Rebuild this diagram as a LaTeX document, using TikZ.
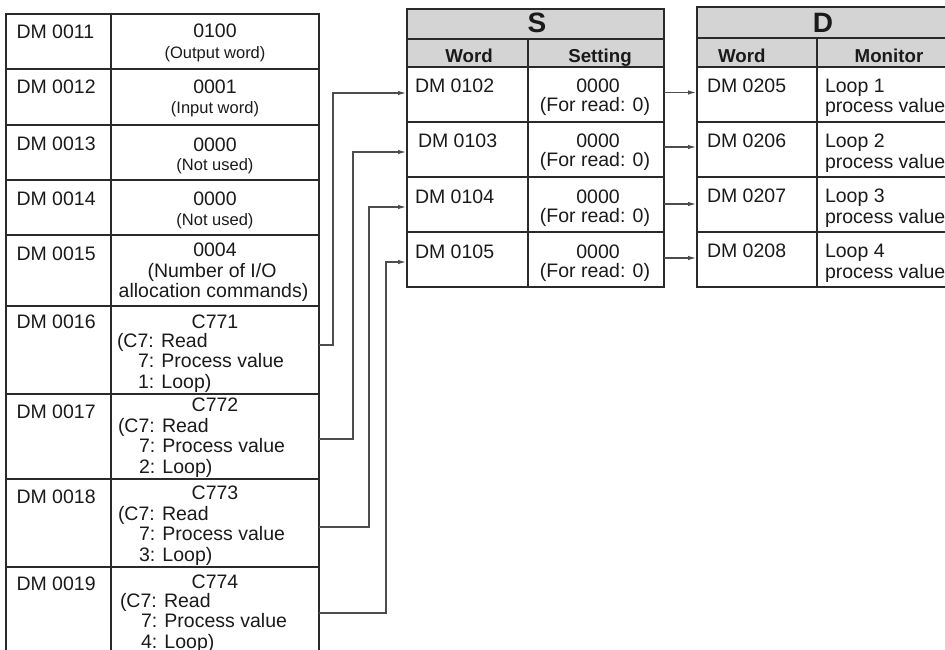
\documentclass[tikz,border=0pt]{standalone}
\usepackage{fontspec}
\setmainfont{Liberation Sans}
\usetikzlibrary{arrows.meta,calc}
\definecolor{txtc}{HTML}{1A1A1A}
\definecolor{linec}{HTML}{2A2A2A}
\definecolor{connc}{HTML}{4D4D4D}
\definecolor{hdrc}{HTML}{D4D4D4}
\begin{document}
\begin{tikzpicture}[x=1pt,y=-1pt,
  cell/.style={draw=linec, line width=1.2pt, inner sep=0pt, outer sep=0pt, anchor=north west},
  hdr/.style={cell, fill=hdrc},
  txt/.style={inner sep=0pt, outer sep=0pt, anchor=base, font=\fontsize{19.5}{20.5}\selectfont, text=txtc},
  txtl/.style={txt, anchor=base west},
  small/.style={txt, font=\fontsize{16.5}{18}\selectfont},
  boldtxt/.style={txt, font=\fontsize{18.7}{20}\selectfont\bfseries},
  bigtxt/.style={txt, font=\fontsize{28}{30}\selectfont\bfseries},
  conn/.style={draw=connc, line width=1.1pt, -{Latex[length=8pt,width=4.5pt]}, shorten >=1pt},
]
\useasboundingbox (0,0) rectangle (945,650);
\clip (0,0) rectangle (945,650);

% ---------- left table ----------
\foreach \n/\t/\b in {11/14/69, 12/69/125, 13/125/180, 14/180/235, 15/235/306, 16/306/394, 17/394/479, 18/479/567, 19/567/700} {
  \node[cell, minimum width=105, minimum height={\b-\t}] (k\n) at (6,\t) {};
  \node[cell, minimum width=208, minimum height={\b-\t}] (v\n) at (111,\t) {};
}
\foreach \n/\y in {11/39, 12/94, 13/150, 14/205, 15/260, 16/328, 17/418, 18/503, 19/590} {
  \node[txtl] (tk\n) at (16.5,\y) {DM 00\n};
}
\node[txt] (tv11) at (215,38) {0100};
\node[small] (tv11b) at (215,58.5) {(Output word)};
\node[txt] (tv12) at (215,94) {0001};
\node[small] (tv12b) at (215,113.5) {(Input word)};
\node[txt] (tv13) at (215,151) {0000};
\node[small] (tv13b) at (215,170) {(Not used)};
\node[txt] (tv14) at (215,205) {0000};
\node[small] (tv14b) at (215,225) {(Not used)};
\node[txt] (tv15) at (215,256.5) {0004};
\node[txt] (tv15b) at (212,277) {(Number of I/O};
\node[txt] (tv15c) at (213.5,297.5) {allocation commands)};
\foreach \n/\c/\y/\dx/\dy in {16/1/328/117/347, 17/2/411/118/432, 18/3/499/118/520, 19/4/588/120/607} {
  \node[txt] (tc\n) at (215,\y) {C77\c};
  \node[txtl] (td\n) at (\dx,\dy) {\begin{tabular}[t]{@{}l@{}}(C7: Read\\\hspace{21pt}7: Process value\\\hspace{21pt}\c: Loop)\end{tabular}};
}

% ---------- S table ----------
\node[hdr, minimum width=257, minimum height=30] (sh) at (407,9) {};
\node[hdr, minimum width=121, minimum height=28] (sw) at (407,39) {};
\node[hdr, minimum width=136, minimum height=28] (ss) at (528,39) {};
\node[bigtxt] (shT) at (537,33) {S};
\node[boldtxt] (swT) at (469,63) {Word};
\node[boldtxt] (ssT) at (600,63) {Setting};
\foreach \i/\t/\kx/\w in {1/67/415/0102, 2/122/418/0103, 3/177/415/0104, 4/232/415/0105} {
  \node[cell, minimum width=121, minimum height=55] (s\i) at (407,\t) {};
  \node[cell, minimum width=136, minimum height=55] (sv\i) at (528,\t) {};
  \node[txtl] (sk\i) at (\kx,\t+26) {DM \w};
  \node[txt] (sa\i) at (598,\t+26) {0000};
  \node[txt] (sb\i) at (595,\t+45) {(For read: 0)};
}

% ---------- D table ----------
\node[hdr, minimum width=252, minimum height=31] (dh) at (697,7) {};
\node[hdr, minimum width=120, minimum height=29] (dw) at (697,38) {};
\node[hdr, minimum width=132, minimum height=29] (dm) at (817,38) {};
\node[bigtxt] (dhT) at (823,33) {D};
\node[boldtxt, anchor=base west] (dwT) at (718,63) {Word};
\node[boldtxt] (dmT) at (889,63) {Monitor};
\foreach \i/\t/\w in {1/67/0205, 2/122/0206, 3/177/0207, 4/232/0208} {
  \node[cell, minimum width=120, minimum height=55] (d\i) at (697,\t) {};
  \node[cell, minimum width=132, minimum height=55] (dv\i) at (817,\t) {};
  \node[txtl] (dk\i) at (707,\t+25.5) {DM \w};
  \node[txtl] (da\i) at (825,\t+25.5) {Loop \i};
  \node[txtl] (db\i) at (825,\t+46) {process value};
}

% ---------- connectors ----------
\draw[conn] ([yshift=-39pt]v16.north east) -- ++(14,0) |- ([yshift=1.5pt]s1.west);
\draw[conn] ([yshift=-45pt]v17.north east) -- ++(34,0) |- ([yshift=-2.5pt]s2.west);
\draw[conn] ([yshift=-48pt]v18.north east) -- ++(50,0) |- ([yshift=-2.5pt]s3.west);
\draw[conn] ([yshift=-46pt]v19.north east) -- ++(67,0) |- ([yshift=-2.5pt]s4.west);

\draw[conn] ([yshift=2pt]sv1.east) -- ([yshift=2pt]d1.west);
\draw[conn] ([yshift=2.5pt]sv2.east) -- ([yshift=2.5pt]d2.west);
\draw[conn] ([yshift=0.5pt]sv3.east) -- ([yshift=0.5pt]d3.west);
\draw[conn] ([yshift=1.5pt]sv4.east) -- ([yshift=1.5pt]d4.west);
\end{tikzpicture}
\end{document}
